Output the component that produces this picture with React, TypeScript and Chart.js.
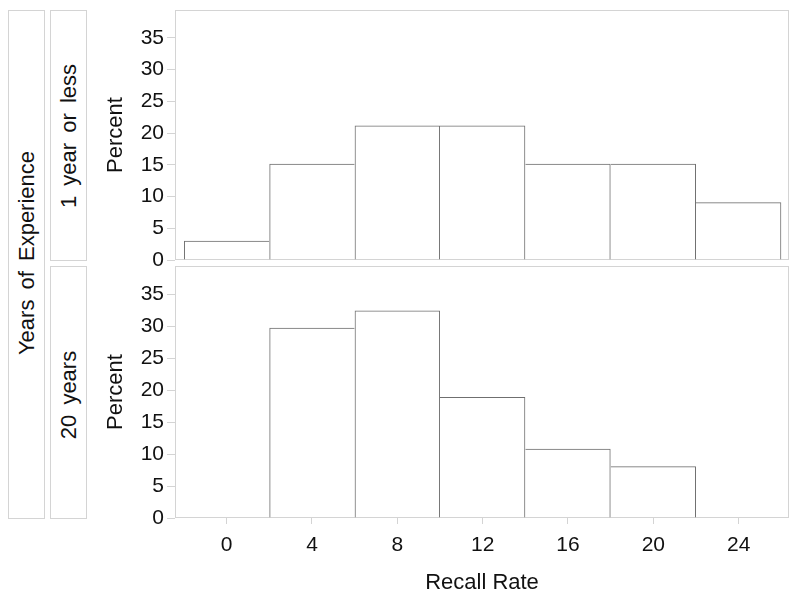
import React, { useEffect, useRef } from 'react';
import { Chart, registerables } from 'chart.js';

Chart.register(...registerables);

// ---- data ----
const binCenters = [0, 4, 8, 12, 16, 20, 24];
const xTickValues = [0, 4, 8, 12, 16, 20, 24];
const yTickValues = [0, 5, 10, 15, 20, 25, 30, 35];
const percentOneYearOrLess = [3.03, 15.15, 21.21, 21.21, 15.15, 15.15, 9.09];
const percentTwentyYears = [0, 29.73, 32.43, 18.92, 10.81, 8.11, 0];
const panelLabels = ['1 year or less', '20 years'];
const rowHeader = 'Years of Experience';
const xTitle = 'Recall Rate';
const yTitle = 'Percent';

const X_MIN = -2.42;
const X_MAX = 26.36;
const Y_MAX = 39.4;
const FONT = "'Liberation Sans', Arial, Helvetica, sans-serif";
const TEXT = '#111111';
const FRAME = '#d4d4d4';
const BAR_EDGE = '#6f6f6f';

const framePlugin = {
  id: 'panelFrame',
  beforeDatasetsDraw(chart: any) {
    const { ctx, chartArea: a } = chart;
    ctx.save();
    ctx.strokeStyle = FRAME;
    ctx.lineWidth = 1;
    const l = Math.round(a.left) + 0.5;
    const t = Math.round(a.top) + 0.5;
    const r = Math.round(a.right) - 0.5;
    const b = Math.round(a.bottom) - 0.5;
    ctx.strokeRect(l, t, r - l, b - t);
    ctx.restore();
  },
};

function edgeWidths(values: number[]) {
  return (ctx: any) => {
    const i = ctx.dataIndex;
    if (i === undefined || i === null) return 1;
    const v = values[i] ?? 0;
    const prev = i > 0 ? values[i - 1] : 0;
    const next = i < values.length - 1 ? values[i + 1] : 0;
    return {
      top: v > 0 ? 1 : 0,
      bottom: 0,
      left: v > prev ? 1 : 0,
      right: v > 0 && v >= next ? 1 : 0,
    };
  };
}

function makeConfig(values: number[], isBottom: boolean): any {
  return {
    type: 'bar',
    data: {
      datasets: [
        {
          data: binCenters.map((x, i) => ({ x, y: values[i] })),
          backgroundColor: 'rgba(255,255,255,0)',
          borderColor: BAR_EDGE,
          borderWidth: edgeWidths(values),
          borderSkipped: false,
          inflateAmount: 0,
          barPercentage: 1,
          categoryPercentage: 1,
        },
      ],
    },
    options: {
      animation: false,
      responsive: false,
      maintainAspectRatio: false,
      layout: {
        padding: isBottom
          ? { top: 16, right: 11, bottom: 0, left: 0 }
          : { top: 10, right: 11, bottom: 20, left: 0 },
      },
      plugins: {
        legend: { display: false },
        tooltip: { enabled: false },
        title: { display: false },
      },
      scales: {
        x: {
          type: 'linear',
          min: X_MIN,
          max: X_MAX,
          offset: false,
          display: isBottom,
          afterBuildTicks: (s: any) => {
            s.ticks = xTickValues.map((v) => ({ value: v }));
          },
          afterFit: (s: any) => {
            if (isBottom) s.height = 79;
            s.paddingLeft = 0;
            s.paddingRight = 0;
          },
          ticks: { font: { family: FONT, size: 21 }, color: TEXT, padding: 9, maxRotation: 0, autoSkip: false },
          grid: { offset: false, drawOnChartArea: false, drawTicks: true, tickLength: 6, color: FRAME },
          border: { display: false },
          title: {
            display: isBottom,
            text: xTitle,
            font: { family: FONT, size: 22 },
            color: TEXT,
            padding: { top: 0, bottom: 1 },
          },
        },
        y: {
          min: 0,
          max: Y_MAX,
          afterBuildTicks: (s: any) => {
            s.ticks = yTickValues.map((v) => ({ value: v }));
          },
          afterFit: (s: any) => {
            s.width = 175;
            s.paddingTop = 0;
            s.paddingBottom = 0;
          },
          ticks: { font: { family: FONT, size: 21 }, color: TEXT, padding: 3, autoSkip: false },
          grid: { drawOnChartArea: false, drawTicks: true, tickLength: 8, color: FRAME },
          border: { display: false },
          title: {
            display: true,
            text: yTitle,
            font: { family: FONT, size: 22 },
            color: TEXT,
            padding: { top: 103, bottom: 0 },
          },
        },
      },
    },
    plugins: [framePlugin],
  };
}

function PanelChart({ values, isBottom, top, height }: { values: number[]; isBottom: boolean; top: number; height: number }) {
  const ref = useRef<HTMLCanvasElement | null>(null);
  useEffect(() => {
    const chart = new Chart(ref.current as HTMLCanvasElement, makeConfig(values, isBottom));
    return () => chart.destroy();
  }, [values, isBottom]);
  return (
    <canvas
      ref={ref}
      width={800}
      height={height}
      style={{ position: 'absolute', left: 0, top, width: 800, height, display: 'block' }}
    />
  );
}

function StripBox({ left, top, width, height, text, offsetY = 0 }: any) {
  return (
    <div
      style={{
        position: 'absolute',
        left,
        top,
        width,
        height,
        border: `1px solid ${FRAME}`,
        boxSizing: 'border-box',
      }}
    >
      <div
        style={{
          position: 'absolute',
          left: '50%',
          top: `calc(50% + ${offsetY}px)`,
          transform: 'translate(-50%, -50%) rotate(-90deg)',
          whiteSpace: 'nowrap',
          fontFamily: FONT,
          fontSize: 22,
          lineHeight: 1,
          wordSpacing: 4,
          color: TEXT,
        }}
      >
        {text}
      </div>
    </div>
  );
}

export default function App() {
  return (
    <div style={{ position: 'absolute', left: 0, top: 0, width: 800, height: 597, background: '#ffffff', overflow: 'hidden' }}>
      <StripBox left={8} top={10} width={37} height={509} text={rowHeader} offsetY={-12} />
      <StripBox left={50} top={10} width={37} height={251} text={panelLabels[0]} />
      <StripBox left={50} top={266} width={37} height={253} text={panelLabels[1]} offsetY={2} />
      <PanelChart values={percentOneYearOrLess} isBottom={false} top={0} height={280} />
      <PanelChart values={percentTwentyYears} isBottom={true} top={250} height={347} />
    </div>
  );
}
